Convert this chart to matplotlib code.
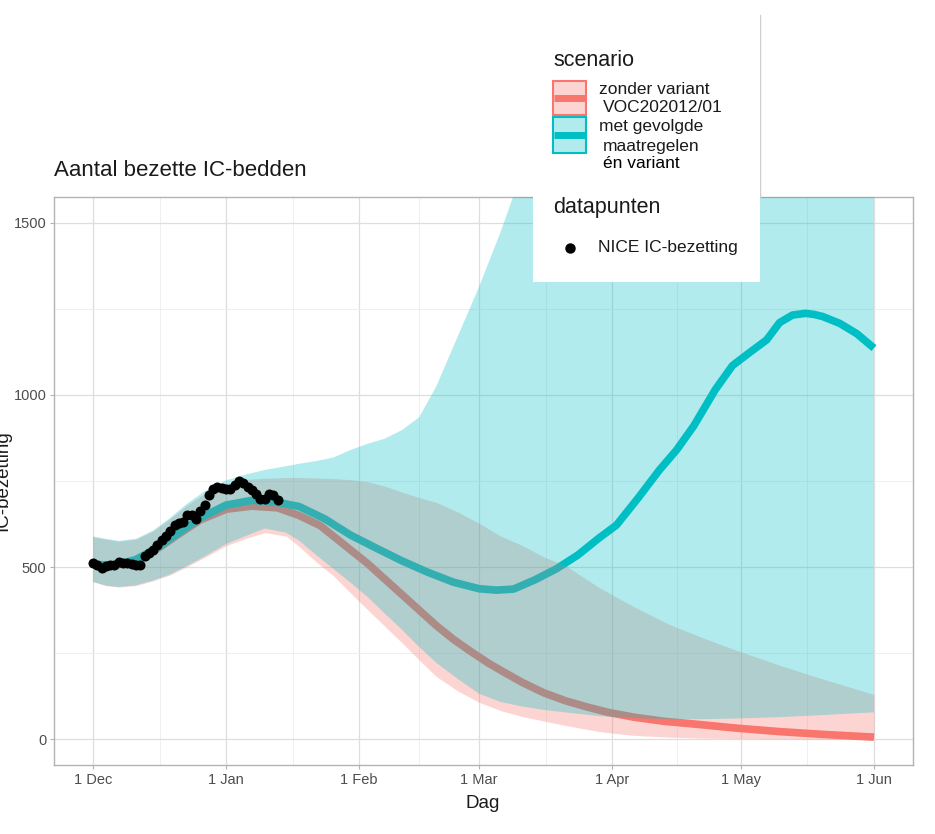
import numpy as np
import matplotlib
matplotlib.use("Agg")
import matplotlib.pyplot as plt
import matplotlib.dates as mdates
from matplotlib.patches import Rectangle
from matplotlib.lines import Line2D
from matplotlib.ticker import FixedLocator, FuncFormatter

plt.rcParams["font.family"] = ["Liberation Sans", "DejaVu Sans"]

start = np.datetime64("2020-12-01")

# NICE IC-bezetting, one value per day from 1 Dec
nice_values = [512, 506, 497, 503, 506, 506, 514, 511, 511, 508, 506, 506,
               532, 540, 549, 565, 578, 590, 605, 621, 627, 632, 650, 652,
               641, 662, 679, 708, 726, 734, 730, 726, 728, 737, 751, 744,
               733, 724, 712, 699, 698, 712, 708, 694]

# ribbons (days after 1 Dec)
rib_days = [0, 3, 6, 10, 14, 18, 22, 26, 31, 36, 40, 45, 48, 52, 56, 60, 64, 68,
            72, 76, 80, 85, 90, 95, 100, 105, 110, 118, 126, 134, 142, 150, 160,
            170, 182]
zonder_lo = [457, 446, 442, 446, 460, 477, 502, 528, 562, 585, 600, 590, 560,
             515, 475, 425, 376, 328, 280, 230, 182, 140, 107, 83, 66, 53, 40,
             22, 11, 6, 3, 2, 1, 0, 0]
zonder_hi = [588, 581, 575, 581, 605, 641, 681, 713, 742, 755, 758, 760, 760,
             759, 757, 754, 748, 735, 718, 702, 688, 660, 627, 590, 563, 530,
             505, 440, 385, 335, 295, 258, 215, 175, 130]
met_lo = [457, 446, 442, 447, 461, 479, 504, 531, 567, 592, 612, 600, 577, 535,
          495, 455, 413, 365, 318, 268, 222, 175, 132, 108, 95, 85, 78, 67, 61,
          58, 58, 60, 64, 70, 78]
met_hi = [589, 582, 576, 582, 606, 643, 685, 720, 752, 770, 782, 793, 800, 808,
          818, 840, 858, 873, 898, 935, 1025, 1170, 1315, 1474, 1650, 1850, 2050,
          2400, 2700, 3000, 3300, 3500, 3700, 3850, 4000]

# central lines
zonder_days = [0, 5, 10, 15, 20, 25, 31, 37, 43, 48, 53, 56, 60, 64, 68, 72, 76,
               80, 84, 88, 92, 96, 100, 105, 110, 115, 120, 126, 133, 141, 150,
               160, 170, 182]
zonder_mid = [507, 504, 519, 553, 596, 637, 668, 677, 672, 650, 620, 590, 550,
              510, 465, 420, 375, 330, 290, 255, 222, 193, 165, 135, 112, 94, 78,
              64, 52, 43, 32, 22, 14, 6]
met_days = [0, 5, 10, 15, 20, 25, 31, 37, 43, 48, 54, 60, 66, 72, 78, 84, 90, 94,
            98, 103, 108, 113, 118, 122, 127, 132, 136, 140, 145, 149, 153, 157,
            160, 163, 166, 168, 170, 174, 178, 182]
met_mid = [508, 505, 522, 556, 600, 643, 680, 694, 688, 676, 640, 593, 555, 518,
           485, 456, 437, 433, 436, 463, 495, 535, 585, 622, 700, 782, 840, 910,
           1015, 1085, 1123, 1160, 1210, 1232, 1237, 1234, 1228, 1208, 1178, 1136]

red = "#F8766D"
teal = "#00BFC4"


def to_dates(days):
    return start + np.array(days).astype("timedelta64[D]")


W, H = 935, 834
fig = plt.figure(figsize=(W / 100, H / 100), dpi=100)
ax = fig.add_axes([54 / W, 1 - 765 / H, (913 - 54) / W, (765 - 197) / H])

# lines first, ribbons on top (as in the original)
ax.plot(to_dates(zonder_days), zonder_mid, color=red, lw=5.5, zorder=2,
        solid_capstyle="butt", solid_joinstyle="round")
ax.plot(to_dates(met_days), met_mid, color=teal, lw=5.5, zorder=2,
        solid_capstyle="butt", solid_joinstyle="round")
ax.fill_between(to_dates(rib_days), zonder_lo, zonder_hi, color=red,
                alpha=0.3, lw=0, zorder=3)
ax.fill_between(to_dates(rib_days), met_lo, met_hi, color=teal,
                alpha=0.3, lw=0, zorder=3)
ax.scatter(to_dates(range(len(nice_values))), nice_values, s=52, color="black",
           zorder=4, lw=0)

# axes, ggplot theme_light look
x0 = mdates.date2num(start)
ax.set_xlim(x0 - 9.1, x0 + 191.1)
ax.set_ylim(-75, 1575)
months = ["2020-12-01", "2021-01-01", "2021-02-01", "2021-03-01",
          "2021-04-01", "2021-05-01", "2021-06-01"]
major_x = [mdates.date2num(np.datetime64(m)) for m in months]
minor_x = [(a + b) / 2 for a, b in zip(major_x[:-1], major_x[1:])]
ax.xaxis.set_major_locator(FixedLocator(major_x))
ax.xaxis.set_minor_locator(FixedLocator(minor_x))
ax.xaxis.set_major_formatter(FuncFormatter(
    lambda v, p: f"{mdates.num2date(v).day} {mdates.num2date(v):%b}"))
ax.set_yticks([0, 500, 1000, 1500])
ax.set_yticks([250, 750, 1250], minor=True)

ax.grid(which="major", color="#DEDEDE", lw=0.9, zorder=0)
ax.grid(which="minor", color="#EDEDED", lw=0.6, zorder=0)
ax.set_axisbelow(True)
for s in ax.spines.values():
    s.set_color("#B3B3B3")
    s.set_linewidth(1.0)
ax.tick_params(which="major", length=3, width=0.8, color="#B3B3B3",
               labelcolor="#4D4D4D", labelsize=10.5, pad=2.5)
ax.tick_params(which="minor", length=0)

fig.text(54 / W, 1 - 171 / H, "Aantal bezette IC-bedden", fontsize=16,
         color="#1A1A1A", ha="left", va="center")
fig.text(483 / W, 1 - 803 / H, "Dag", fontsize=13.5, color="#1A1A1A",
         ha="center", va="center")
# the original crops this label at the left edge
fig.text(3 / W, 1 - 481 / H, "IC-bezetting", fontsize=13.5, color="#1A1A1A",
         ha="center", va="center", rotation=90)


# legend, drawn in figure pixels
def fx(x):
    return x / W


def fy(y):
    return 1 - y / H


fig.add_artist(Line2D([fx(760), fx(760)], [fy(15), fy(197)], color="#CFCFCF",
                      lw=1.0, zorder=5))
fig.add_artist(Rectangle((fx(533), fy(282)), fx(760) - fx(533), fy(15) - fy(282),
                         transform=fig.transFigure, facecolor="white",
                         edgecolor="none", zorder=6))
fig.text(fx(553), fy(60), "scenario", fontsize=15.5, color="#1A1A1A",
         va="center", zorder=7)
for (ytop, ybot, col) in [(81, 115, red), (117, 153, teal)]:
    fig.add_artist(Rectangle((fx(553), fy(ybot)), fx(586) - fx(553),
                             fy(ytop) - fy(ybot), transform=fig.transFigure,
                             facecolor=col, alpha=0.3, edgecolor="none",
                             zorder=7))
    fig.add_artist(Rectangle((fx(553), fy(ybot)), fx(586) - fx(553),
                             fy(ytop) - fy(ybot), transform=fig.transFigure,
                             facecolor="none", edgecolor=col, lw=1.5, zorder=8))
    ym = (ytop + ybot) / 2
    fig.add_artist(Line2D([fx(554), fx(585)], [fy(ym), fy(ym)], color=col,
                          lw=5, zorder=8, solid_capstyle="butt"))
legend_lines = [(599, 89, "zonder variant", "#1A1A1A"),
                (603, 108, "VOC202012/01", "#1A1A1A"),
                (599, 127, "met gevolgde", "#1A1A1A"),
                (603, 146, "maatregelen", "#1A1A1A"),
                (603, 164, "én variant", "black")]
for (x, y, t, c) in legend_lines:
    fig.text(fx(x), fy(y), t, fontsize=12.5, color=c, va="center", zorder=8)
fig.text(fx(553), fy(208), "datapunten", fontsize=15.5, color="#1A1A1A",
         va="center", zorder=7)
fig.add_artist(Line2D([fx(570)], [fy(248)], marker="o", markersize=6.5,
                      color="black", lw=0, zorder=8))
fig.text(fx(598), fy(248), "NICE IC-bezetting", fontsize=12.5, color="#1A1A1A",
         va="center", zorder=8)

fig.savefig("out.png", dpi=100)
